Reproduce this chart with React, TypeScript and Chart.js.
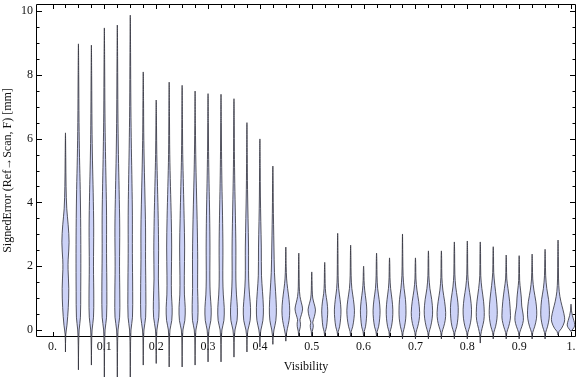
import React, { useEffect, useRef } from 'react';
import { Chart, registerables } from 'chart.js';

Chart.register(...registerables);

// ---------------- data ----------------
const violinCenters = [
  0.025, 0.05, 0.075, 0.1, 0.125, 0.15, 0.175, 0.2, 0.225, 0.25,
  0.275, 0.3, 0.325, 0.35, 0.375, 0.4, 0.425, 0.45, 0.475, 0.5,
  0.525, 0.55, 0.575, 0.6, 0.625, 0.65, 0.675, 0.7, 0.725, 0.75,
  0.775, 0.8, 0.825, 0.85, 0.875, 0.9, 0.925, 0.95, 0.975, 1.0,
];

const tailLow = [
  -0.69, -1.25, -1.1, -1.6, -1.6, -1.6, -1.1, -1.05, -1.16, -1.16,
  -1.1, -1.0, -1.0, -0.85, -0.69, -0.53, -0.45, -0.35, -0.22, -0.2,
  -0.2, -0.2, -0.22, -0.2, -0.22, -0.25, -0.28, -0.28, -0.28, -0.28,
  -0.28, -0.28, -0.41, -0.28, -0.28, -0.28, -0.28, -0.28, -0.16, -0.05,
];

const tailHigh = [
  6.18, 8.97, 8.93, 9.47, 9.56, 9.87, 8.09, 7.21, 7.77, 7.67,
  7.49, 7.41, 7.39, 7.25, 6.5, 5.99, 5.14, 2.6, 2.41, 1.82,
  2.12, 3.03, 2.66, 2.0, 2.41, 2.26, 3.01, 2.26, 2.48, 2.48,
  2.76, 2.79, 2.76, 2.61, 2.35, 2.33, 2.38, 2.53, 2.82, 0.81,
];

// [value, density] knots between the two tail ends of each violin
const densityProfiles: number[][][] = [
  [[-0.15,0.3],[0.15,1.5],[0.7,2.8],[1.3,3.3],[1.9,2.6],[2.2,2.7],[2.75,3.6],[3.3,2.7],[3.8,1.3],[4.5,0.6],[5.4,0.3]],
  [[-0.5,0.2],[0,0.7],[0.4,2.0],[1.2,2.3],[2.4,2.4],[3.5,2.2],[4.4,1.8],[5.4,1.1],[6.5,0.6],[8,0.3]],
  [[-0.5,0.2],[0,0.7],[0.4,2.1],[1.0,2.4],[2.0,2.1],[3.2,2.3],[4.3,1.8],[5.3,1.1],[6.4,0.6],[7.9,0.3]],
  [[-0.7,0.2],[0,0.7],[0.4,2.2],[1.2,2.5],[2.4,2.2],[3.6,2.2],[4.6,1.7],[5.6,1.1],[6.8,0.6],[8.4,0.3]],
  [[-0.7,0.2],[0,0.7],[0.4,2.3],[1.0,2.5],[2.0,2.2],[3.2,2.4],[4.4,1.8],[5.5,1.1],[6.8,0.6],[8.5,0.3]],
  [[-0.7,0.2],[0,0.7],[0.4,2.2],[1.2,2.4],[2.4,2.1],[3.6,2.1],[4.6,1.7],[5.7,1.1],[7.0,0.6],[8.7,0.3]],
  [[-0.5,0.2],[0,0.7],[0.4,2.4],[1.2,2.6],[2.2,2.3],[3.2,2.3],[4.2,1.7],[5.2,1.0],[6.2,0.5],[7.2,0.3]],
  [[-0.5,0.2],[0,0.7],[0.4,2.6],[0.9,2.8],[1.6,2.2],[2.5,2.4],[3.5,2.0],[4.5,1.3],[5.5,0.6],[6.4,0.3]],
  [[-0.5,0.2],[0,0.8],[0.3,2.6],[0.7,3.0],[1.1,2.3],[1.7,2.2],[2.6,2.5],[3.5,2.1],[4.5,1.3],[5.5,0.6],[6.7,0.3]],
  [[-0.5,0.2],[0,0.8],[0.3,2.7],[0.7,3.1],[1.1,2.3],[1.7,2.2],[2.6,2.5],[3.5,2.0],[4.5,1.3],[5.5,0.6],[6.6,0.3]],
  [[-0.5,0.2],[0,0.8],[0.3,2.6],[0.8,2.9],[1.3,2.5],[2.2,2.6],[3.2,2.2],[4.2,1.5],[5.2,0.8],[6.4,0.3]],
  [[-0.45,0.2],[0,0.9],[0.3,2.8],[0.7,3.1],[1.1,2.2],[1.6,1.8],[2.6,1.9],[3.6,1.6],[4.6,1.0],[5.6,0.5],[6.5,0.3]],
  [[-0.45,0.2],[0,0.9],[0.3,2.9],[0.7,3.2],[1.1,2.3],[1.6,1.8],[2.6,1.9],[3.6,1.5],[4.6,0.9],[5.6,0.5],[6.5,0.3]],
  [[-0.4,0.2],[0,1.0],[0.3,3.1],[0.7,3.4],[1.1,2.5],[1.6,1.9],[2.6,1.9],[3.6,1.4],[4.6,0.8],[5.6,0.4],[6.4,0.3]],
  [[-0.3,0.2],[0,1.0],[0.3,3.2],[0.7,3.6],[1.1,2.6],[1.6,1.7],[2.6,1.6],[3.5,1.1],[4.4,0.6],[5.5,0.3]],
  [[-0.25,0.2],[0,1.0],[0.3,3.0],[0.7,3.5],[1.2,2.6],[1.7,1.6],[2.6,1.4],[3.4,0.9],[4.2,0.5],[5.1,0.3]],
  [[-0.2,0.3],[0,1.1],[0.3,3.0],[0.7,3.5],[1.2,2.7],[1.8,1.6],[2.6,1.1],[3.3,0.7],[4.0,0.4],[4.6,0.3]],
  [[-0.15,0.4],[0.05,1.6],[0.3,3.2],[0.6,3.9],[0.95,3.2],[1.3,1.8],[1.6,0.8],[2.0,0.35]],
  [[-0.05,0.5],[0.1,1.5],[0.22,1.6],[0.32,1.2],[0.48,2.6],[0.66,3.8],[0.85,2.6],[1.05,1.2],[1.35,0.5],[1.9,0.3]],
  [[-0.05,0.5],[0.08,1.4],[0.15,1.5],[0.24,1.0],[0.42,2.6],[0.63,3.7],[0.82,2.4],[1.0,1.0],[1.25,0.45],[1.55,0.3]],
  [[-0.05,0.6],[0.1,1.8],[0.35,2.6],[0.6,3.0],[0.88,2.3],[1.15,1.0],[1.45,0.45],[1.8,0.3]],
  [[-0.05,0.6],[0.1,1.9],[0.35,2.9],[0.63,3.3],[0.95,2.4],[1.3,1.0],[1.7,0.45],[2.4,0.3]],
  [[-0.05,0.6],[0.1,2.0],[0.35,3.3],[0.62,3.8],[0.95,2.8],[1.3,1.2],[1.7,0.5],[2.2,0.3]],
  [[-0.05,0.6],[0.1,1.9],[0.35,2.8],[0.6,3.2],[0.9,2.5],[1.25,1.1],[1.55,0.45],[1.8,0.3]],
  [[-0.05,0.6],[0.1,2.0],[0.35,3.1],[0.62,3.5],[0.95,2.6],[1.3,1.1],[1.7,0.45],[2.1,0.3]],
  [[-0.05,0.6],[0.1,1.9],[0.35,3.0],[0.63,3.3],[0.95,2.5],[1.3,1.1],[1.65,0.45],[2.0,0.3]],
  [[-0.08,0.6],[0.1,2.0],[0.35,3.2],[0.6,3.5],[0.95,3.0],[1.3,1.6],[1.7,0.6],[2.3,0.3]],
  [[-0.08,0.6],[0.1,2.2],[0.3,3.6],[0.55,4.2],[0.9,3.2],[1.25,1.5],[1.6,0.5],[2.0,0.3]],
  [[-0.08,0.6],[0.1,2.2],[0.35,3.7],[0.6,4.2],[0.95,3.3],[1.3,1.5],[1.7,0.5],[2.2,0.3]],
  [[-0.08,0.6],[0.1,2.3],[0.3,3.8],[0.55,4.3],[0.9,3.2],[1.25,1.5],[1.65,0.5],[2.2,0.3]],
  [[-0.08,0.6],[0.1,2.3],[0.35,3.5],[0.7,3.9],[1.0,3.0],[1.35,1.4],[1.75,0.5],[2.4,0.3]],
  [[-0.08,0.6],[0.1,2.3],[0.35,3.8],[0.65,4.2],[1.0,3.2],[1.35,1.5],[1.75,0.5],[2.4,0.3]],
  [[-0.15,0.5],[0.05,1.8],[0.3,3.6],[0.55,4.0],[0.9,3.3],[1.3,1.6],[1.7,0.5],[2.4,0.3]],
  [[-0.08,0.6],[0.1,2.3],[0.35,3.7],[0.62,4.0],[1.0,3.1],[1.4,1.6],[1.8,0.5],[2.3,0.3]],
  [[-0.08,0.6],[0.1,2.4],[0.3,3.9],[0.45,4.3],[0.9,3.4],[1.3,1.8],[1.6,0.6],[2.0,0.3]],
  [[-0.08,0.6],[0.1,2.6],[0.3,4.2],[0.5,3.9],[0.75,2.6],[1.0,2.2],[1.25,1.4],[1.55,0.5],[2.0,0.3]],
  [[-0.08,0.6],[0.1,2.5],[0.35,4.3],[0.6,4.6],[0.9,3.7],[1.25,1.8],[1.6,0.6],[2.0,0.3]],
  [[-0.08,0.6],[0.1,2.4],[0.35,4.0],[0.6,4.3],[0.95,3.5],[1.3,1.7],[1.7,0.6],[2.2,0.3]],
  [[-0.05,1.0],[0.05,3.5],[0.25,6.3],[0.4,6.5],[0.65,4.8],[0.9,2.8],[1.2,1.2],[1.6,0.5],[2.3,0.3]],
  [[0,1.2],[0.08,3.0],[0.16,3.8],[0.3,2.8],[0.45,1.4],[0.6,0.5],[0.72,0.3]],
];

const xTickValues = [0, 0.1, 0.2, 0.3, 0.4, 0.5, 0.6, 0.7, 0.8, 0.9, 1.0];
const xTickLabels = ['0.', '0.1', '0.2', '0.3', '0.4', '0.5', '0.6', '0.7', '0.8', '0.9', '1.'];
const xMinorTickValues = [0, ...violinCenters];
const yTickValues = [0, 2, 4, 6, 8, 10];
const yTickLabels = ['0', '2', '4', '6', '8', '10'];
const yMinorTickValues = [0.5, 1, 1.5, 2.5, 3, 3.5, 4.5, 5, 5.5, 6.5, 7, 7.5, 8.5, 9, 9.5];

const xTitle = 'Visibility';
const yTitle = 'SignedError (Ref\u2192Scan, F) [mm]';

// ---------------- styling ----------------
const X_MIN = -0.0299;
const X_MAX = 1.0077;
const Y_MIN = -0.22;
const Y_MAX = 10.22;
const HALF_WIDTH_PER_DENSITY = 0.00193;
const FILL = 'rgb(204, 210, 247)';
const EDGE = 'rgba(45, 45, 55, 0.8)';
const FONT = "'Liberation Serif', 'Times New Roman', 'DejaVu Serif', serif";
const TEXT = '#111';

const framePlugin = {
  id: 'mmaFrame',
  beforeDatasetsDraw(chart: any) {
    const { ctx, chartArea: a, scales } = chart;
    const xs = scales.x;
    const ys = scales.y;
    const L = a.left - 0.5;
    const R = a.right + 0.5;
    const T = a.top + 0.5;
    const B = a.bottom - 0.5;
    ctx.save();
    ctx.strokeStyle = '#000';
    ctx.lineWidth = 1;
    ctx.beginPath();
    ctx.rect(L, T, R - L, B - T);
    ctx.stroke();
    ctx.beginPath();
    xMinorTickValues.forEach((v) => {
      const major = xTickValues.some((t) => Math.abs(t - v) < 1e-9);
      const len = major ? 4.5 : 3.5;
      const px = Math.round(xs.getPixelForValue(v)) + 0.5;
      ctx.moveTo(px, B);
      ctx.lineTo(px, B - len);
      ctx.moveTo(px, T);
      ctx.lineTo(px, T + len);
    });
    const yTicks = [...yTickValues.map((v) => [v, 5.5]), ...yMinorTickValues.map((v) => [v, 3])];
    yTicks.forEach(([v, len]) => {
      const py = Math.round(ys.getPixelForValue(v)) + 0.5;
      ctx.moveTo(L, py);
      ctx.lineTo(L + len, py);
      ctx.moveTo(R, py);
      ctx.lineTo(R - len, py);
    });
    ctx.stroke();
    ctx.restore();
  },
};

function buildDatasets() {
  return violinCenters.map((c, i) => {
    const knots: number[][] = [[tailLow[i], 0], ...densityProfiles[i], [tailHigh[i], 0]];
    const leftSide = knots.map(([y, d]) => ({ x: c - d * HALF_WIDTH_PER_DENSITY, y }));
    const rightSide = knots
      .slice(0, -1)
      .reverse()
      .map(([y, d]) => ({ x: c + d * HALF_WIDTH_PER_DENSITY, y }));
    return {
      data: [...leftSide, ...rightSide],
      borderColor: EDGE,
      borderWidth: 1,
      backgroundColor: FILL,
      fill: 'shape',
      tension: 0.35,
      capBezierPoints: false,
      pointRadius: 0,
      pointHoverRadius: 0,
      pointHitRadius: 0,
      clip: false,
    };
  });
}

export default function App() {
  const canvasRef = useRef<HTMLCanvasElement | null>(null);

  useEffect(() => {
    if (!canvasRef.current) return;
    const chart = new Chart(canvasRef.current, {
      type: 'line',
      data: { datasets: buildDatasets() as any },
      options: {
        animation: false,
        responsive: false,
        maintainAspectRatio: false,
        devicePixelRatio: 1,
        events: [],
        layout: { padding: { left: 0, right: 1, top: 4, bottom: 0 } },
        plugins: { legend: { display: false }, tooltip: { enabled: false } },
        elements: { line: { capBezierPoints: false } },
        scales: {
          x: {
            type: 'linear',
            min: X_MIN,
            max: X_MAX,
            grid: { display: false, drawTicks: false },
            border: { display: false },
            ticks: {
              autoSkip: false,
              maxRotation: 0,
              minRotation: 0,
              padding: 3,
              color: TEXT,
              font: { family: FONT, size: 12 },
              callback: (value: any) => {
                const idx = xTickValues.findIndex((t) => Math.abs(t - Number(value)) < 1e-9);
                return idx >= 0 ? xTickLabels[idx] : '';
              },
            },
            afterBuildTicks: (scale: any) => {
              scale.ticks = xTickValues.map((v) => ({ value: v }));
            },
            afterFit: (scale: any) => {
              scale.height = 40;
              scale.paddingLeft = 0;
              scale.paddingRight = 0;
            },
            title: {
              display: true,
              text: xTitle,
              color: TEXT,
              font: { family: FONT, size: 12 },
              padding: { top: 0, bottom: 3 },
            },
          },
          y: {
            type: 'linear',
            min: Y_MIN,
            max: Y_MAX,
            grid: { display: false, drawTicks: false },
            border: { display: false },
            ticks: {
              autoSkip: false,
              padding: 4,
              color: TEXT,
              font: { family: FONT, size: 12 },
              callback: (value: any) => {
                const idx = yTickValues.findIndex((t) => Math.abs(t - Number(value)) < 1e-9);
                return idx >= 0 ? yTickLabels[idx] : '';
              },
            },
            afterBuildTicks: (scale: any) => {
              scale.ticks = yTickValues.map((v) => ({ value: v }));
            },
            afterFit: (scale: any) => {
              scale.width = 37;
              scale.paddingTop = 0;
              scale.paddingBottom = 0;
            },
            title: {
              display: true,
              text: yTitle,
              color: TEXT,
              font: { family: FONT, size: 12 },
              padding: { top: 1, bottom: 0 },
            },
          },
        },
      },
      plugins: [framePlugin],
    } as any);
    return () => chart.destroy();
  }, []);

  return (
    <div style={{ position: 'absolute', left: 0, top: 0, width: 576, height: 377, background: '#fff' }}>
      <canvas ref={canvasRef} width={576} height={377} style={{ display: 'block' }} />
    </div>
  );
}
